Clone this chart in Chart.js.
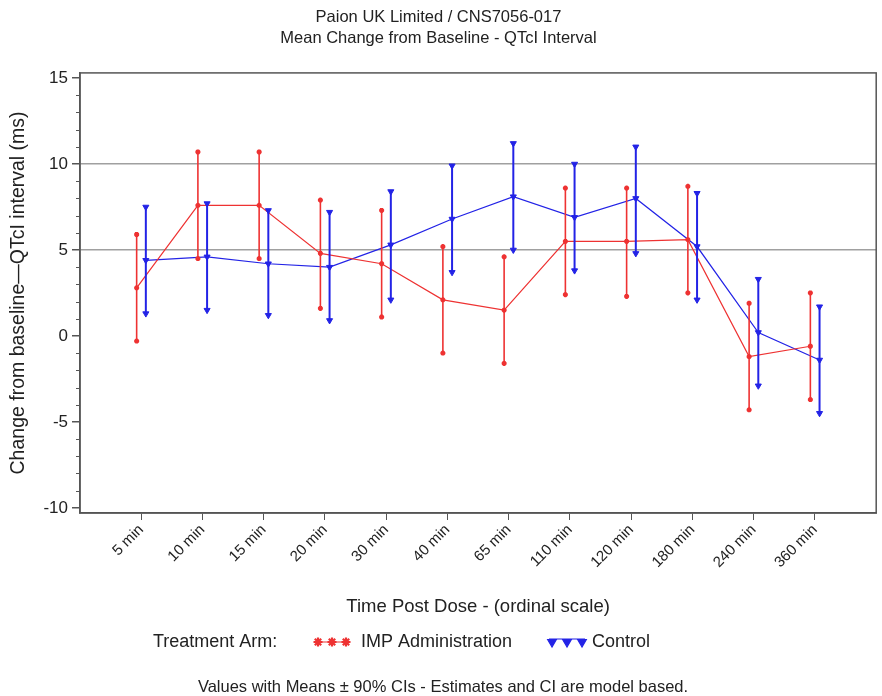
<!DOCTYPE html>
<html>
<head>
<meta charset="utf-8">
<script src="https://cdn.jsdelivr.net/npm/chart.js@4.4.1/dist/chart.umd.min.js"></script>
<style>
  html, body { margin: 0; padding: 0; background: #fff; }
  canvas { display: block; }
</style>
</head>
<body>
<canvas id="qtcChart" width="882" height="696"></canvas>
<script>
// time points (ordinal)
const timeLabels = ["5 min", "10 min", "15 min", "20 min", "30 min", "40 min",
  "65 min", "110 min", "120 min", "180 min", "240 min", "360 min"];

// IMP Administration: mean and 90% CI
const impMean  = [2.8, 7.6, 7.6, 4.8, 4.2, 2.1, 1.5, 5.5, 5.5, 5.6, -1.2, -0.6];
const impLower = [-0.3, 4.5, 4.5, 1.6, 1.1, -1.0, -1.6, 2.4, 2.3, 2.5, -4.3, -3.7];
const impUpper = [5.9, 10.7, 10.7, 7.9, 7.3, 5.2, 4.6, 8.6, 8.6, 8.7, 1.9, 2.5];

// Control: mean and 90% CI
const ctlMean  = [4.4, 4.6, 4.2, 4.0, 5.3, 6.8, 8.1, 6.9, 8.0, 5.2, 0.2, -1.4];
const ctlLower = [1.3, 1.5, 1.2, 0.9, 2.1, 3.7, 5.0, 3.8, 4.8, 2.1, -2.9, -4.5];
const ctlUpper = [7.5, 7.7, 7.3, 7.2, 8.4, 9.9, 11.2, 10.0, 11.0, 8.3, 3.3, 1.7];

const yTicks = [-10, -5, 0, 5, 10, 15];
const refLines = [5, 10];

const RED = "#ee3232";
const BLUE = "#2323e6";
const FONT = "'Liberation Sans', Arial, sans-serif";
const shift = 0.075; // side-by-side offset of the two arms

function meanPoints(means, dx) {
  return means.map((v, i) => ({ x: i + 1 + dx, y: v }));
}

// whisker segments: low, high, gap
function ciPoints(lo, hi, dx) {
  const pts = [];
  lo.forEach((v, i) => {
    pts.push({ x: i + 1 + dx, y: v });
    pts.push({ x: i + 1 + dx, y: hi[i] });
    pts.push({ x: i + 1 + dx, y: null });
  });
  return pts;
}

const frameAndLegend = {
  id: "frameAndLegend",
  afterDraw(chart) {
    const { ctx, chartArea: a, scales } = chart;
    const y = scales.y;
    ctx.save();
    // box around plot
    ctx.strokeStyle = "#555";
    ctx.lineWidth = 1.5;
    ctx.strokeRect(a.left, a.top, a.right - a.left, a.bottom - a.top);
    // minor ticks on y
    ctx.lineWidth = 1;
    for (let v = -10; v <= 15; v++) {
      if (v % 5 === 0) continue;
      const py = Math.round(y.getPixelForValue(v)) + 0.5;
      ctx.beginPath();
      ctx.moveTo(a.left - 4, py);
      ctx.lineTo(a.left, py);
      ctx.stroke();
    }

    // legend
    ctx.fillStyle = "#222";
    ctx.font = "18px " + FONT;
    ctx.textBaseline = "middle";
    ctx.textAlign = "left";
    const ly = 642;
    ctx.fillText("Treatment Arm:", 153, ly);

    ctx.strokeStyle = RED;
    ctx.fillStyle = RED;
    ctx.lineWidth = 1.2;
    ctx.beginPath(); ctx.moveTo(314, ly); ctx.lineTo(350, ly); ctx.stroke();
    ctx.lineWidth = 2.2;
    [318, 332, 346].forEach(px => {
      Chart.helpers.drawPoint(ctx, { pointStyle: "star", radius: 4.5, rotation: 0, borderWidth: 2.2 }, px, ly);
    });
    ctx.fillStyle = "#222";
    ctx.fillText("IMP Administration", 361, ly);

    ctx.strokeStyle = BLUE;
    ctx.fillStyle = BLUE;
    ctx.lineWidth = 1.2;
    ctx.beginPath(); ctx.moveTo(549, ly - 3); ctx.lineTo(585, ly - 3); ctx.stroke();
    [552, 567, 582].forEach(px => {
      Chart.helpers.drawPoint(ctx, { pointStyle: "triangle", radius: 5, rotation: 180, borderWidth: 1 }, px, ly);
    });
    ctx.fillStyle = "#222";
    ctx.fillText("Control", 592, ly);

    // footnote
    ctx.font = "16.5px " + FONT;
    ctx.textAlign = "center";
    ctx.fillText("Values with Means \u00b1 90% CIs - Estimates and CI are model based.", 443, 687);
    ctx.restore();
  }
};

const ctx = document.getElementById("qtcChart").getContext("2d");

new Chart(ctx, {
  type: "line",
  data: {
    datasets: [
      {
        label: "IMP Administration CI",
        data: ciPoints(impLower, impUpper, -shift),
        borderColor: RED,
        backgroundColor: RED,
        borderWidth: 1.6,
        pointStyle: "star",
        pointRadius: 2.5,
        pointBorderWidth: 1.8,
        spanGaps: false
      },
      {
        label: "Control CI",
        data: ciPoints(ctlLower, ctlUpper, shift),
        borderColor: BLUE,
        backgroundColor: BLUE,
        borderWidth: 2,
        pointStyle: "triangle",
        rotation: 180,
        pointRadius: 3.5,
        pointBorderWidth: 1,
        spanGaps: false
      },
      {
        label: "IMP Administration",
        data: meanPoints(impMean, -shift),
        borderColor: RED,
        backgroundColor: RED,
        borderWidth: 1.2,
        pointStyle: "star",
        pointRadius: 2.5,
        pointBorderWidth: 1.8
      },
      {
        label: "Control",
        data: meanPoints(ctlMean, shift),
        borderColor: BLUE,
        backgroundColor: BLUE,
        borderWidth: 1.2,
        pointStyle: "triangle",
        rotation: 180,
        pointRadius: 3.5,
        pointBorderWidth: 1
      }
    ]
  },
  options: {
    responsive: false,
    animation: false,
    layout: { padding: { left: 0, right: 5, top: 0, bottom: 73 } },
    plugins: {
      legend: { display: false },
      tooltip: { enabled: false },
      title: {
        display: true,
        text: ["Paion UK Limited / CNS7056-017", "Mean Change from Baseline - QTcI Interval"],
        color: "#222",
        font: { family: FONT, size: 16.5, weight: "normal", lineHeight: 1.27 },
        padding: { top: 7, bottom: 24 }
      }
    },
    scales: {
      x: {
        type: "linear",
        min: 0,
        max: 13,
        afterFit: (scale) => { scale.height = 110; },
        afterBuildTicks: (scale) => {
          scale.ticks = timeLabels.map((_, i) => ({ value: i + 1 }));
        },
        ticks: {
          autoSkip: false,
          minRotation: 45,
          maxRotation: 45,
          padding: 1,
          color: "#222",
          font: { family: FONT, size: 15 },
          callback: (v) => timeLabels[v - 1]
        },
        grid: { drawOnChartArea: false, tickLength: 7, tickColor: "#555" },
        border: { color: "#555", width: 1.5 },
        title: {
          display: true,
          text: "Time Post Dose - (ordinal scale)",
          color: "#222",
          font: { family: FONT, size: 18.5 },
          padding: { top: 0, bottom: 5 }
        }
      },
      y: {
        min: -10.3,
        max: 15.3,
        afterFit: (scale) => { scale.width = 80; },
        afterBuildTicks: (scale) => {
          scale.ticks = yTicks.map(v => ({ value: v }));
        },
        ticks: {
          color: "#222",
          padding: 4,
          font: { family: FONT, size: 17 }
        },
        grid: {
          color: (c) => refLines.includes(c.tick && c.tick.value) ? "#a0a0a0" : "rgba(0,0,0,0)",
          lineWidth: 1.5,
          tickLength: 8,
          tickColor: "#555"
        },
        border: { color: "#555", width: 1.5 },
        title: {
          display: true,
          text: "Change from baseline\u2014QTcI interval (ms)",
          color: "#222",
          font: { family: FONT, size: 19.5 },
          padding: { top: 7, bottom: 0 }
        }
      }
    }
  },
  plugins: [frameAndLegend]
});
</script>
</body>
</html>
